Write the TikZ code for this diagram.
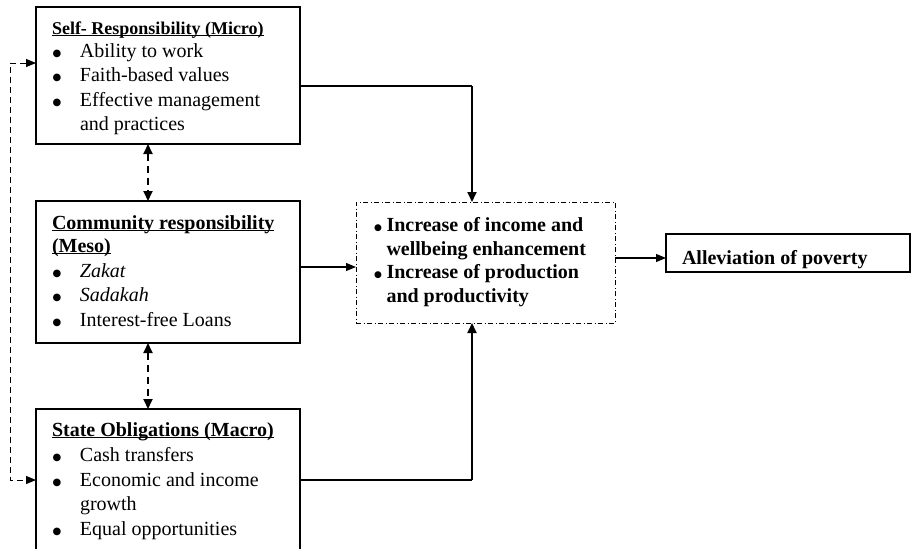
\documentclass[tikz,border=0pt]{standalone}
\usepackage{fontspec}
\setmainfont{Liberation Serif}
\newfontfamily\symf{DejaVu Sans}
\usetikzlibrary{arrows.meta,calc}
\newcommand\myul[1]{\setbox0\hbox{#1}\rlap{\rule[-2.3pt]{\wd0}{1pt}}\box0}
\newcommand\blt[1]{\raisebox{0.8pt}{\symf\fontsize{#1}{12}\selectfont ●}}
\newcommand\lb{\makebox[28pt][l]{\makebox[10pt][c]{\blt{10}}}}
\newcommand\cb{\makebox[12pt][l]{\makebox[7pt][c]{\blt{9}}}}
\begin{document}
\begin{tikzpicture}[x=1pt,y=-1pt,
  box/.style={draw, line width=1.1pt, inner sep=0pt, outer sep=0pt, anchor=north west},
  dbox/.style={box, line width=1pt, dash pattern=on 5pt off 2.5pt on 1pt off 2.5pt},
  txt/.style={inner sep=0pt, outer sep=0pt, anchor=base west, font=\fontsize{20}{24}\selectfont},
  ttl/.style={txt, font=\fontsize{20}{24}\selectfont\bfseries},
  line/.style={line width=1.1pt},
  conn/.style={line width=1.1pt, -{Triangle[length=10pt,width=8pt]}},
  vconn/.style={line width=1.8pt, -{Triangle[length=10pt,width=9pt]}},
  vd/.style={line width=1.8pt, dash pattern=on 7pt off 5pt, {Triangle[length=10pt,width=9pt]}-{Triangle[length=10pt,width=9pt]}},
  fb/.style={line width=1pt, dash pattern=on 6pt off 4pt, {Triangle[length=10pt,width=8pt]}-{Triangle[length=10pt,width=8pt]}}]
\useasboundingbox (0,0) rectangle (911,549);
\clip (0,0) rectangle (911,549);

% boxes
\node[box, minimum width=264pt, minimum height=137pt] (self) at (36,7) {};
\node[box, minimum width=264pt, minimum height=142pt] (comm) at (36,201) {};
\node[box, minimum width=264pt, minimum height=160pt] (state) at (36,409) {};
\node[dbox, minimum width=259pt, minimum height=121pt] (out) at (356,202) {};
\node[box, minimum width=244pt, minimum height=38pt] (alle) at (666,234) {};

% self box text
\node[ttl, font=\fontsize{18}{24}\selectfont\bfseries] (s0) at (52,34) {\myul{Self- Responsibility (Micro)}};
\node[txt] (s1) at (52,57) {\lb Ability to work};
\node[txt] (s2) at (52,81.5) {\lb Faith-based values};
\node[txt] (s3) at (52,106) {\lb Effective management};
\node[txt] (s4) at (80,130.5) {and practices};

% community box text
\node[ttl] (m0) at (52,229) {\myul{Community responsibility}};
\node[ttl] (m1) at (52,252) {\myul{(Meso)}};
\node[txt] (m2) at (52,277) {\lb \textit{Zakat}};
\node[txt] (m3) at (52,301) {\lb \textit{Sadakah}};
\node[txt] (m4) at (52,326) {\lb Interest-free Loans};

% state box text
\node[ttl] (b0) at (52,436) {\myul{State Obligations (Macro)}};
\node[txt] (b1) at (52,461) {\lb Cash transfers};
\node[txt] (b2) at (52,486) {\lb Economic and income};
\node[txt] (b3) at (80,510) {growth};
\node[txt] (b4) at (52,535) {\lb Equal opportunities};

% outcome box text
\node[ttl] (c0) at (374.5,231.5) {\cb Increase of income and};
\node[ttl] (c1) at (386.5,255) {wellbeing enhancement};
\node[ttl] (c2) at (374.5,278.5) {\cb Increase of production};
\node[ttl] (c3) at (386.5,302) {and productivity};

% alleviation
\node[ttl] (a0) at (682,264) {Alleviation of poverty};

% connectors
\coordinate (tA) at ($(self.north east)+(0,79)$);
\coordinate (tB) at ($(out.north west)+(116,0)$);
\draw[line] (tA) -- (tA -| tB);
\draw[vconn] (tA -| tB) -- (tB);
\draw[conn] ($(comm.north east)+(0,66)$) coordinate (mA) -- (mA -| out.west);
\coordinate (bA) at ($(state.north east)+(0,71)$);
\coordinate (bB) at ($(out.south west)+(116,0)$);
\draw[line] (bA) -- (bA -| bB);
\draw[vconn] (bA -| bB) -- (bB);
\draw[conn] ($(out.north east)+(0,56)$) coordinate (oA) -- (oA -| alle.west);

\draw[vd] ($(self.south west)+(112,0)$) -- ($(comm.north west)+(112,0)$);
\draw[vd] ($(comm.south west)+(112,0)$) -- ($(state.north west)+(112,0)$);

\draw[fb] ($(self.north west)+(0,56)$) -- ++(-26,0) |- ($(state.north west)+(0,71)$);
\end{tikzpicture}
\end{document}
